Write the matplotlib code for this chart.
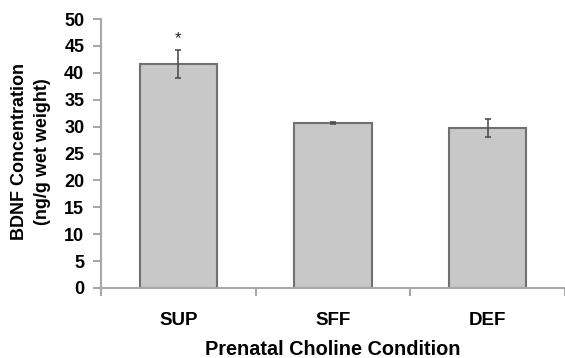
import matplotlib.pyplot as plt
import numpy as np

conditions = ['SUP', 'SFF', 'DEF']
bdnf = [41.6, 30.6, 29.8]
sem = [2.6, 0.2, 1.7]
yticks = list(range(0, 55, 5))

plt.rcParams['font.family'] = ['Liberation Sans', 'DejaVu Sans']
plt.rcParams['font.weight'] = 'bold'

spine_col = '#a8a8a8'

fig = plt.figure(figsize=(5.65, 3.58), dpi=100)
ax = fig.add_axes([101 / 565, 70 / 358, 464 / 565, 269 / 358])

x = np.arange(len(conditions))
ax.bar(x, bdnf, width=0.5, color='#c8c8c8', edgecolor='#707070', linewidth=1.5, zorder=2)
ax.errorbar(x, bdnf, yerr=sem, fmt='none', ecolor='#505050', elinewidth=1.2,
            capsize=2, capthick=1.2, zorder=3)
ax.text(0, bdnf[0] + sem[0] + 0.8, '*', ha='center', va='bottom', fontsize=12,
        fontweight='normal', color='#222222')

ax.set_xlim(-0.5, 2.5)
ax.set_ylim(0, 50)
ax.set_yticks(yticks)
ax.set_xticks(x)
ax.set_xticklabels(conditions)
ax.set_xticks([-0.5, 0.5, 1.5, 2.5], minor=True)
ax.tick_params(axis='x', which='major', length=0, pad=17, labelsize=13.5)
ax.tick_params(axis='x', which='minor', length=6, width=1.5, color=spine_col, direction='out')
ax.tick_params(axis='y', length=6, width=1.5, color=spine_col, direction='out', pad=6,
               labelsize=13)

for s in ['top', 'right']:
    ax.spines[s].set_visible(False)
for s in ['left', 'bottom']:
    ax.spines[s].set_color(spine_col)
    ax.spines[s].set_linewidth(1.5)

ax.set_xlabel('Prenatal Choline Condition', fontsize=14.3, fontweight='bold', labelpad=8)
fig.text(31 / 565, 1 - 152 / 358, 'BDNF Concentration\n(ng/g wet weight)', rotation=90,
         ha='center', va='center', multialignment='center', fontsize=13,
         fontweight='bold', linespacing=1.4)

plt.savefig('out.png', dpi=100)
